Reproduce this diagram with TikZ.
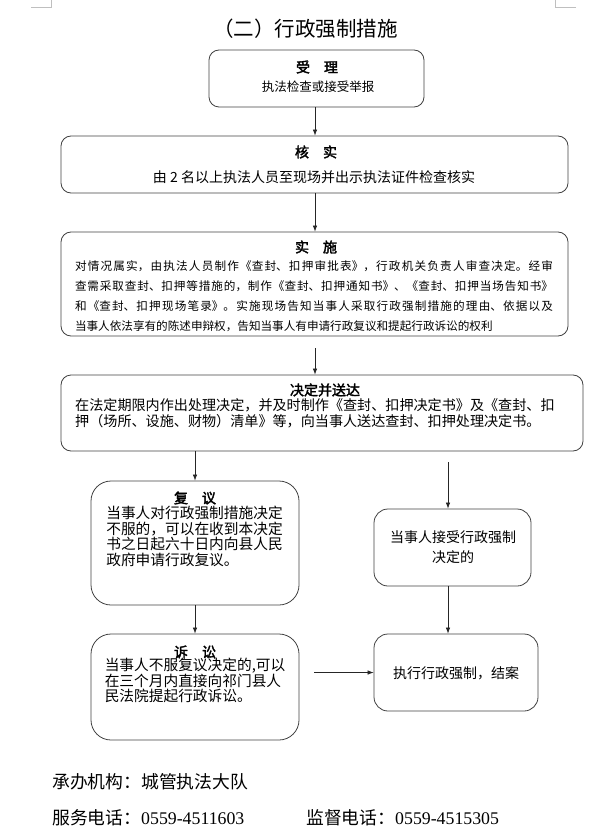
\documentclass[tikz,border=0pt]{standalone}
\usepackage{fontspec}
\setmainfont{Noto Sans CJK SC}[AutoFakeBold=2.5]
\newfontfamily\songnum{Liberation Serif}
\usetikzlibrary{arrows.meta}
\XeTeXlinebreaklocale "zh"
\XeTeXlinebreakskip=0pt plus 1pt
\definecolor{box-line}{HTML}{404040}
\definecolor{mark-gray}{HTML}{BFBFBF}

\begin{document}
\begin{tikzpicture}[x=1pt, y=-1pt, every node/.style={inner sep=0pt},
    flowbox/.style={draw=box-line, line width=0.8pt, rounded corners=10pt},
    headtext/.style={font=\fontsize{14}{16}\selectfont\bfseries},
    foottext/.style={anchor=west, font=\fontsize{17.8}{20}\selectfont},
    flowarr/.style={-{Latex[length=6pt,width=4.5pt]}, line width=0.7pt, black!85}]
  \useasboundingbox (0,0) rectangle (612,837);
  % page marks
  \draw[mark-gray, line width=0.6pt] (31,7) -- (51,7) -- (51,0);
  \draw[mark-gray, line width=0.6pt] (576,7) -- (555,7) -- (555,0);
  \node[font=\fontsize{20.5}{22}\selectfont] (title) at (305.5,29) {（二）行政强制措施};
  \coordinate (midcol) at (315,0);
  \coordinate (rcol) at (448,0);

  % main column
  \node[flowbox, minimum width=215pt, minimum height=57pt] (shouli) at (316.5,78.5) {};
  \node[headtext] (shoulihead) at (317,67) {受\quad 理};
  \node[font=\fontsize{12.5}{14}\selectfont] (shoulibody) at (318,87) {执法检查或接受举报};

  \node[flowbox, minimum width=507pt, minimum height=57pt] (heshi) at (314.5,164.5) {};
  \node[headtext] (heshihead) at (316,152) {核\quad 实};
  \node[font=\fontsize{14}{16}\selectfont] (heshibody) at (314,177)
    {由 2 名以上执法人员至现场并出示执法证件检查核实};

  \node[flowbox, minimum width=507pt, minimum height=104pt] (shishi) at (314.5,284) {};
  \node[headtext] (shishihead) at (316,247) {实\quad 施};
  \node[text width=478pt, align=justify, font=\fontsize{11.6}{20}\selectfont] (shishibody) at (314,296)
    {\parindent=0pt\parfillskip=0pt\tolerance=10000
     对情况属实，由执法人员制作《查封、扣押审批表》，行政机关负责人审查决定。经审\par
     查需采取查封、扣押等措施的，制作《查封、扣押通知书》、《查封、扣押当场告知书》\par
     和《查封、扣押现场笔录》。实施现场告知当事人采取行政强制措施的理由、依据以及\par
     当事人依法享有的陈述申辩权，告知当事人有申请行政复议和提起行政诉讼的权利};

  \node[flowbox, minimum width=522pt, minimum height=76pt] (jueding) at (322,413) {};
  \node[headtext] (juedinghead) at (325,390) {决定并送达};
  \node[anchor=west, align=left, font=\fontsize{14.1}{16}\selectfont] (juedingbody) at (75,413)
    {在法定期限内作出处理决定，并及时制作《查封、扣押决定书》及《查封、扣\\
     押（场所、设施、财物）清单》等，向当事人送达查封、扣押处理决定书。};

  % left column
  \node[flowbox, rounded corners=20pt, minimum width=208pt, minimum height=124pt] (fuyi) at (195,543) {};
  \node[headtext] (fuyihead) at (195,498) {复\quad 议};
  \node[align=left, font=\fontsize{14.7}{15.7}\selectfont] (fuyibody) at (194.5,536.5)
    {当事人对行政强制措施决定\\不服的，可以在收到本决定\\书之日起六十日内向县人民\\政府申请行政复议。};

  \node[flowbox, rounded corners=20pt, minimum width=208pt, minimum height=106pt] (susong) at (195,687) {};
  \node[headtext] (susonghead) at (195,652) {诉\quad 讼};
  \node[align=left, font=\fontsize{14.7}{15.5}\selectfont] (susongbody) at (195,680.5)
    {当事人不服复议决定的,可以\\在三个月内直接向祁门县人\\民法院提起行政诉讼。};

  % right column
  \node[flowbox, rounded corners=14pt, minimum width=157pt, minimum height=77pt] (jieshou) at (452.5,547.5) {};
  \node[align=center, font=\fontsize{14}{20}\selectfont] (jieshoubody) at (453,547)
    {当事人接受行政强制\\决定的};

  \node[flowbox, rounded corners=14pt, minimum width=164pt, minimum height=77pt] (zhixing) at (456,672.5) {};
  \node[font=\fontsize{14}{16}\selectfont] (zhixingbody) at (456,673) {执行行政强制，结案};

  % connectors
  \draw[flowarr] (shouli.south -| midcol) -- (heshi.north -| midcol);
  \draw[flowarr] (heshi.south -| midcol) -- (shishi.north -| midcol);
  \draw[flowarr, shorten <=12pt] (shishi.south -| midcol) -- (jueding.north -| midcol);
  \draw[flowarr] (jueding.south -| fuyi.north) -- (fuyi.north);
  \draw[flowarr] (fuyi.south) -- (susong.north);
  \draw[flowarr, shorten <=11pt] (jueding.south -| rcol) -- (jieshou.north -| rcol);
  \draw[flowarr] (jieshou.south -| rcol) -- (zhixing.north -| rcol);
  \draw[flowarr, shorten <=15pt] (susong.east |- zhixing.west) -- (zhixing.west);

  % footer
  \node[foottext] (agency) at (52,782) {承办机构：城管执法大队};
  \node[foottext] (servicetel) at (52,818) {服务电话：{\songnum 0559-4511603}};
  \node[foottext] (supervtel) at (306,818) {监督电话：{\songnum 0559-4515305}};
\end{tikzpicture}
\end{document}
